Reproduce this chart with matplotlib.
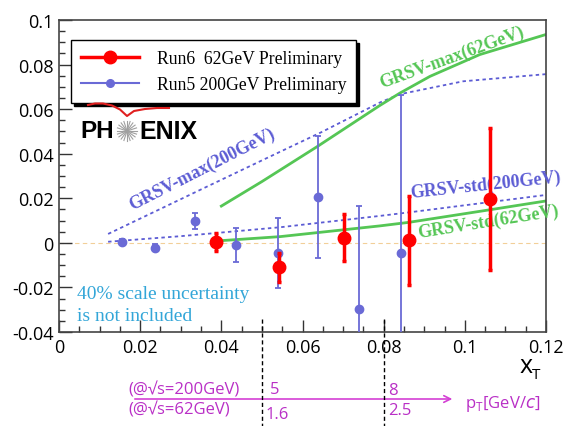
import matplotlib
matplotlib.use("Agg")
import matplotlib.pyplot as plt
import numpy as np
from matplotlib.lines import Line2D
from matplotlib.ticker import MultipleLocator
from matplotlib.transforms import blended_transform_factory

# --- data ---
run6_x = [0.0388, 0.0543, 0.0702, 0.0862, 0.1062]
run6_y = [0.0002, -0.0110, 0.0024, 0.0012, 0.0197]
run6_err = [0.0040, 0.0065, 0.0105, 0.0200, 0.0320]

run5_x = [0.0155, 0.0237, 0.0336, 0.0436, 0.0540, 0.0639, 0.0740, 0.0843]
run5_y = [0.0006, -0.0021, 0.0099, -0.0008, -0.0045, 0.0205, -0.0295, -0.0045]
run5_err = [0.0010, 0.0014, 0.0036, 0.0076, 0.0157, 0.0275, 0.0460, 0.0710]

max62_x = [0.040, 0.050, 0.0638, 0.0791, 0.0840, 0.0914, 0.1037, 0.120]
max62_y = [0.0165, 0.0275, 0.0434, 0.0617, 0.0672, 0.0747, 0.0845, 0.0935]

max200_x = [0.0121, 0.0347, 0.050, 0.0647, 0.0791, 0.0840, 0.0996, 0.120]
max200_y = [0.0040, 0.0237, 0.0370, 0.0497, 0.0630, 0.0667, 0.0725, 0.0757]

std200_x = [0.0121, 0.030, 0.0545, 0.0791, 0.0872, 0.120]
std200_y = [0.0005, 0.0030, 0.0070, 0.0121, 0.0139, 0.0215]

std62_x = [0.040, 0.0545, 0.0790, 0.0862, 0.1060, 0.120]
std62_y = [0.0010, 0.0028, 0.0076, 0.0092, 0.0148, 0.0188]

xticks = [0, 0.02, 0.04, 0.06, 0.08, 0.1, 0.12]
xtick_labels = ["0", "0.02", "0.04", "0.06", "0.08", "0.1", "0.12"]
yticks = [-0.04, -0.02, 0, 0.02, 0.04, 0.06, 0.08, 0.1]
ytick_labels = ["-0.04", "-0.02", "0", "0.02", "0.04", "0.06", "0.08", "0.1"]

pt_cut_xt = [0.05, 0.08]

RED = "#ff0000"
BLUE = "#6a6ad6"
BLUE_TXT = "#5c5cd4"
GREEN = "#55c655"
MAG = "#b92fc6"
SERIF = "Liberation Serif"
SANS = ["Open Sans", "DejaVu Sans"]

W, H = 566, 427
fig = plt.figure(figsize=(W / 100, H / 100), dpi=100)
ax = fig.add_axes([59 / W, 1 - 333 / H, 487 / W, 312 / H])

ax.set_xlim(0, 0.12)
ax.set_ylim(-0.04, 0.1)

# zero line
ax.axhline(0, color="#f2cf98", lw=0.8, ls=(0, (4, 3)), zorder=1)

# theory curves
dash = (0, (1.9, 1.8))
ax.plot(max200_x, max200_y, color=BLUE_TXT, lw=1.3, ls=dash, zorder=2)
ax.plot(std200_x, std200_y, color=BLUE_TXT, lw=1.3, ls=dash, zorder=2)
ax.plot(max62_x, max62_y, color=GREEN, lw=2, zorder=2)
ax.plot(std62_x, std62_y, color=GREEN, lw=2, zorder=2)

# data
ax.errorbar(run5_x, run5_y, yerr=run5_err, fmt="o", color=BLUE, ms=6,
            elinewidth=1.3, capsize=2, capthick=1.3, zorder=3)
ax.errorbar(run6_x, run6_y, yerr=run6_err, fmt="o", color=RED, ms=9,
            elinewidth=2.5, capsize=1.5, capthick=2.5, zorder=4)

# curve labels
lab_kw = dict(fontsize=13, family=SERIF, weight="bold", ha="center", va="center")
ax.text(0.0353, 0.0333, "GRSV-max(200GeV)", color=BLUE_TXT, rotation=27, **lab_kw)
ax.text(0.0968, 0.0836, "GRSV-max(62GeV)", color=GREEN, rotation=20, **lab_kw)
ax.text(0.1050, 0.0262, "GRSV-std(200GeV)", color=BLUE_TXT, rotation=6,
        clip_on=False, **lab_kw)
ax.text(0.1058, 0.0098, "GRSV-std(62GeV)", color=GREEN, rotation=9,
        clip_on=False, **lab_kw)

ax.text(0.0044, -0.0228, "40% scale uncertainty", color="#33a6d8",
        fontsize=14, family=SERIF, ha="left", va="center")
ax.text(0.0044, -0.0326, "is not included", color="#33a6d8",
        fontsize=14, family=SERIF, ha="left", va="center")

# axes styling
ax.set_xticks(xticks)
ax.set_xticklabels(xtick_labels)
ax.set_yticks(yticks)
ax.set_yticklabels(ytick_labels)
ax.xaxis.set_minor_locator(MultipleLocator(0.005))
ax.yaxis.set_minor_locator(MultipleLocator(0.005))
ax.tick_params(which="both", direction="in", top=False, right=False,
               color="#333333", width=1)
ax.tick_params(which="major", length=9, labelsize=13, pad=4)
ax.tick_params(which="minor", length=4.5)
for lab in ax.get_xticklabels() + ax.get_yticklabels():
    lab.set_family(SANS)
for sp in ax.spines.values():
    sp.set_color("#444444")
    sp.set_linewidth(1.2)

# legend
handles = [
    Line2D([], [], color=RED, lw=2.5, marker="o", ms=9),
    Line2D([], [], color=BLUE, lw=1.5, marker="o", ms=5.5),
]
leg = ax.legend(handles, ["Run6  62GeV Preliminary", "Run5 200GeV Preliminary"],
                loc="upper left", bbox_to_anchor=(12 / 487, 1 - 20 / 312),
                borderaxespad=0, fancybox=False, edgecolor="black",
                framealpha=1, shadow={"color": "black", "alpha": 1},
                prop={"family": SERIF, "size": 12.7}, handlelength=3.3,
                handletextpad=1.0, borderpad=0.55, labelspacing=0.55)
leg.get_frame().set_linewidth(1.0)

# PHENIX logo (figure pixel coordinates)
def fx(x):
    return x / W


def fy(y):
    return 1 - y / H


fig.text(fx(80), fy(132), "PH", family="Liberation Sans", weight="bold",
         fontsize=17.5, va="center", ha="left")
fig.text(fx(139), fy(132), "ENIX", family="Liberation Sans", weight="bold",
         fontsize=18, va="center", ha="left")
for ang in np.linspace(0, np.pi, 10, endpoint=False):
    dx, dy = 10 * np.cos(ang), 10 * np.sin(ang)
    fig.add_artist(Line2D([fx(127 - dx), fx(127 + dx)], [fy(132 - dy), fy(132 + dy)],
                          color="#a0a0a0", lw=0.8))
arc_x = [88, 95, 103, 112, 120, 127, 134, 145, 157, 169]
arc_y = [106, 104.5, 104.5, 106.5, 110.5, 117, 112, 110, 109, 109]
fig.add_artist(Line2D([fx(v) for v in arc_x], [fy(v) for v in arc_y],
                      color="#e02020", lw=1.5))

# x_T label
fig.text(fx(520), fy(367), "x", family=SANS, fontsize=18, va="center", ha="left")
fig.text(fx(532), fy(376), "T", family=SANS, fontsize=11, va="center", ha="left")

# pT scale below the axis
bt = blended_transform_factory(ax.transData, fig.transFigure)
for xv in pt_cut_xt:
    fig.add_artist(Line2D([xv, xv], [fy(320), 0], transform=bt, color="black",
                          lw=1, ls=(0, (3, 2))))
ax.annotate("", xy=(0.0976, fy(400)), xytext=(0.018, fy(400)),
            xycoords=bt, textcoords=bt,
            arrowprops=dict(arrowstyle="->", color="#d440d4", lw=1.2,
                            mutation_scale=12))
ax.text(0.0172, fy(390), "(@\u221As=200GeV)", transform=bt, color=MAG,
        family=SANS, fontsize=12, va="center", ha="left")
ax.text(0.0172, fy(410), "(@\u221As=62GeV)", transform=bt, color=MAG,
        family=SANS, fontsize=12, va="center", ha="left")
ax.text(0.0520, fy(390), "5", transform=bt, color=MAG, family=SANS,
        fontsize=12, va="center", ha="left")
ax.text(0.0510, fy(415), "1.6", transform=bt, color=MAG, family=SANS,
        fontsize=12, va="center", ha="left")
ax.text(0.0810, fy(391), "8", transform=bt, color=MAG, family=SANS,
        fontsize=12, va="center", ha="left")
ax.text(0.0810, fy(411), "2.5", transform=bt, color=MAG, family=SANS,
        fontsize=12, va="center", ha="left")
ax.text(0.1000, fy(404), "p$_\\mathregular{T}$[GeV/$c$]", transform=bt,
        color=MAG, family=SANS, fontsize=12, va="center", ha="left")

fig.savefig("out.png", dpi=100)
